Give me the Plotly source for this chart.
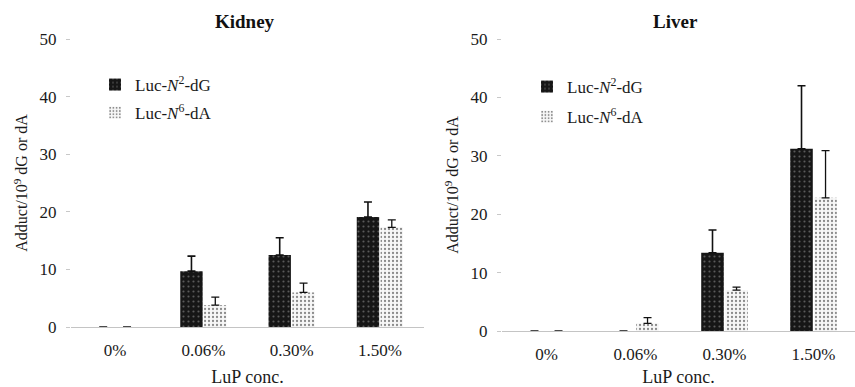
import plotly.graph_objects as go

# LuP dose groups
categories = ["0%", "0.06%", "0.30%", "1.50%"]

# Kidney adduct levels (per 10^9 dG or dA), mean and upper SD
kidney_dG = [0.0, 9.7, 12.5, 19.1]
kidney_dG_sd = [0.0, 2.6, 3.0, 2.6]
kidney_dA = [0.0, 3.8, 6.0, 17.3]
kidney_dA_sd = [0.0, 1.4, 1.6, 1.3]

# Liver adduct levels (per 10^9 dG or dA), mean and upper SD
liver_dG = [0.0, 0.0, 13.4, 31.2]
liver_dG_sd = [0.0, 0.0, 3.9, 10.8]
liver_dA = [0.0, 1.3, 7.0, 22.8]
liver_dA_sd = [0.0, 1.0, 0.5, 8.1]

name_dG = "Luc-<i>N</i><sup>2</sup>-dG"
name_dA = "Luc-<i>N</i><sup>6</sup>-dA"

W, H = 855, 387
SERIF = "'Liberation Serif', 'Times New Roman', serif"

dark_marker = dict(
    color="#161616",
    line=dict(width=0),
    pattern=dict(shape=".", fgcolor="#5a5a5a", bgcolor="#161616",
                 size=5, solidity=0.15, fillmode="replace"),
)
light_marker = dict(
    color="#e0e0e0",
    line=dict(width=0),
    pattern=dict(shape=".", fgcolor="#8a8a8a", bgcolor="#f7f7f7",
                 size=4, solidity=0.25, fillmode="replace"),
)


def err(vals, thick):
    return dict(type="data", symmetric=False, array=vals,
                arrayminus=[0] * len(vals), color="#111",
                thickness=thick, width=4)


fig = go.Figure()

panels = [
    ("x", "y", "legend", kidney_dG, kidney_dG_sd, kidney_dA, kidney_dA_sd),
    ("x2", "y2", "legend2", liver_dG, liver_dG_sd, liver_dA, liver_dA_sd),
]
for xa, ya, lg, g, gsd, a, asd in panels:
    fig.add_trace(go.Bar(
        x=categories, y=g, name=name_dG, xaxis=xa, yaxis=ya,
        marker=dark_marker, error_y=err(gsd, 1.6),
        legend=lg, legendgroup=lg + "g", offsetgroup="g",
    ))
    fig.add_trace(go.Bar(
        x=categories, y=a, name=name_dA, xaxis=xa, yaxis=ya,
        marker=light_marker, error_y=err(asd, 1.3),
        legend=lg, legendgroup=lg + "a", offsetgroup="a",
    ))


def px_x(p):
    return p / W


def px_y(p):
    return (H - p) / H


axis_font = dict(family=SERIF, size=17, color="#1a1a1a")

common_x = dict(
    type="category", showgrid=False, zeroline=False, automargin=False,
    showline=True, linecolor="#c4c4c4", linewidth=1,
    ticks="", tickfont=axis_font, ticklabelstandoff=8,
    title=dict(text="LuP conc.", font=dict(family=SERIF, size=18, color="#1a1a1a"),
               standoff=12),
)
common_y = dict(
    range=[0, 50], dtick=10, showgrid=False, zeroline=False, automargin=False,
    showline=False, ticks="outside", ticklen=4, tickcolor="#c8c8c8",
    tickfont=axis_font, ticklabelstandoff=6,
    title=dict(text="Adduct/10<sup>9</sup> dG or dA",
               font=dict(family=SERIF, size=16, color="#1a1a1a"), standoff=7),
)

fig.update_layout(
    width=W, height=H,
    margin=dict(l=0, r=0, t=0, b=0, autoexpand=False),
    paper_bgcolor="white", plot_bgcolor="white",
    barmode="group", bargap=0.46, bargroupgap=0.06,
    font=dict(family=SERIF, color="#1a1a1a"),
    xaxis=dict(common_x, domain=[px_x(71), px_x(424)], range=[-0.5, 3.5],
               anchor="y"),
    yaxis=dict(common_y, domain=[px_y(327), px_y(39)], anchor="x"),
    xaxis2=dict(common_x, domain=[px_x(502), 1.0], range=[-0.5, 3.466],
                anchor="y2"),
    yaxis2=dict(common_y, domain=[px_y(331), px_y(39)], anchor="x2"),
    legend=dict(x=px_x(95), y=px_y(67), xanchor="left", yanchor="top",
                bgcolor="rgba(0,0,0,0)", font=dict(family=SERIF, size=17),
                tracegroupgap=3, itemwidth=30),
    legend2=dict(x=px_x(527), y=px_y(69), xanchor="left", yanchor="top",
                 bgcolor="rgba(0,0,0,0)", font=dict(family=SERIF, size=17),
                 tracegroupgap=5, itemwidth=30),
    annotations=[
        dict(text="<b>Kidney</b>", x=px_x(245), y=px_y(22), xref="paper",
             yref="paper", xanchor="center", yanchor="middle",
             showarrow=False,
             font=dict(family=SERIF, size=19, color="#111")),
        dict(text="<b>Liver</b>", x=px_x(675), y=px_y(22), xref="paper",
             yref="paper", xanchor="center", yanchor="middle",
             showarrow=False,
             font=dict(family=SERIF, size=19, color="#111")),
    ],
)

fig.write_html("out.html")
